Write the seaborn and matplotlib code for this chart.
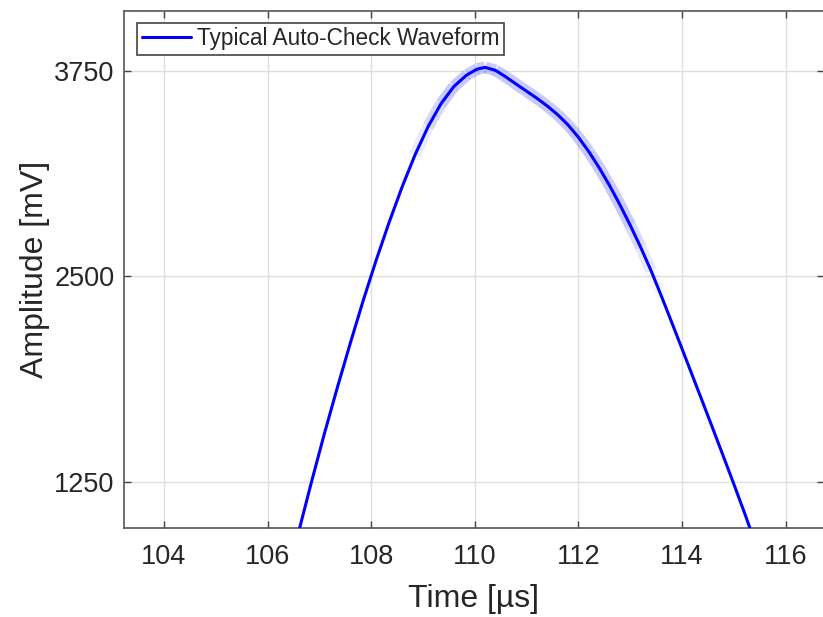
import numpy as np
import pandas as pd
import matplotlib
matplotlib.use("Agg")
import matplotlib.pyplot as plt
import seaborn as sns

# Auto-check waveform samples
time_us = [106.50, 106.62, 106.85, 107.10, 107.35, 107.60, 107.85, 108.10,
           108.35, 108.60, 108.85, 109.10, 109.35, 109.60, 109.85, 110.05,
           110.20, 110.40, 110.60, 110.80, 111.00, 111.20, 111.40, 111.60,
           111.80, 112.00, 112.20, 112.40, 112.60, 112.80, 113.00, 113.20,
           113.40, 113.60, 113.80, 114.00, 114.20, 114.40, 114.60, 114.80,
           115.00, 115.20, 115.31, 115.45]
amplitude_mv = [800, 968, 1250, 1545, 1825, 2095, 2355, 2600,
                2830, 3045, 3240, 3410, 3550, 3655, 3725, 3760,
                3770, 3752, 3712, 3668, 3625, 3582, 3535, 3482,
                3420, 3345, 3258, 3160, 3052, 2935, 2810, 2677,
                2535, 2380, 2220, 2058, 1895, 1732, 1568, 1402,
                1235, 1065, 968, 850]

x_ticks = [104, 106, 108, 110, 112, 114, 116]
y_ticks = [1250, 2500, 3750]
series_label = "Typical Auto-Check Waveform"

sns.set_theme(style="ticks")
plt.rcParams["font.family"] = ["Liberation Sans", "DejaVu Sans"]
text_color = "#262626"
plt.rcParams["text.color"] = text_color
plt.rcParams["axes.labelcolor"] = text_color
plt.rcParams["xtick.color"] = text_color
plt.rcParams["ytick.color"] = text_color

df = pd.DataFrame({"Time": time_us, "Amplitude": amplitude_mv})

fig = plt.figure(figsize=(8.23, 6.17), dpi=100)
ax = fig.add_axes([124 / 823, 89 / 617, 700 / 823, 517 / 617])

# soft translucent band around the crest, fading out along both flanks
t = np.array(time_us, dtype=float)
a = np.array(amplitude_mv, dtype=float)
band_lo, band_hi, fade = 108.7, 113.6, 0.7
for i in range(len(t) - 1):
    tm = 0.5 * (t[i] + t[i + 1])
    w = min((tm - band_lo) / fade, (band_hi - tm) / fade, 1.0)
    if w <= 0:
        continue
    ax.plot(t[i:i + 2], a[i:i + 2], color=(0.45, 0.45, 1.0), lw=8.5,
            alpha=0.38 * w, solid_capstyle="butt", zorder=2)

sns.lineplot(data=df, x="Time", y="Amplitude", ax=ax, color=(0, 0, 1),
             lw=2.2, label=series_label, zorder=3, sort=False)

ax.set_xlim(103.23, 116.74)
ax.set_ylim(968, 4113)
ax.set_xticks(x_ticks)
ax.set_yticks(y_ticks)
ax.tick_params(axis="both", which="both", direction="in", length=5, width=1,
               labelsize=19.5, top=True, right=True, color="#444444")
ax.tick_params(axis="x", pad=11.5)
ax.tick_params(axis="y", pad=7)
ax.grid(True, color="#dedede", lw=1)
ax.set_axisbelow(True)
for s in ax.spines.values():
    s.set_color("#555555")
    s.set_linewidth(1.2)

ax.set_xlabel("Time [µs]", fontsize=23, labelpad=10)
ax.set_ylabel("Amplitude [mV]", fontsize=23, labelpad=2.5)

leg = ax.legend(loc="upper left", fontsize=16.3, frameon=True, fancybox=False,
                edgecolor="#444444", framealpha=1, borderpad=0.2,
                handlelength=2.17, handletextpad=0.27,
                bbox_to_anchor=(0.0186, 0.977), borderaxespad=0)
leg.get_frame().set_linewidth(1.2)

fig.savefig("out.png", dpi=100, facecolor="white")
